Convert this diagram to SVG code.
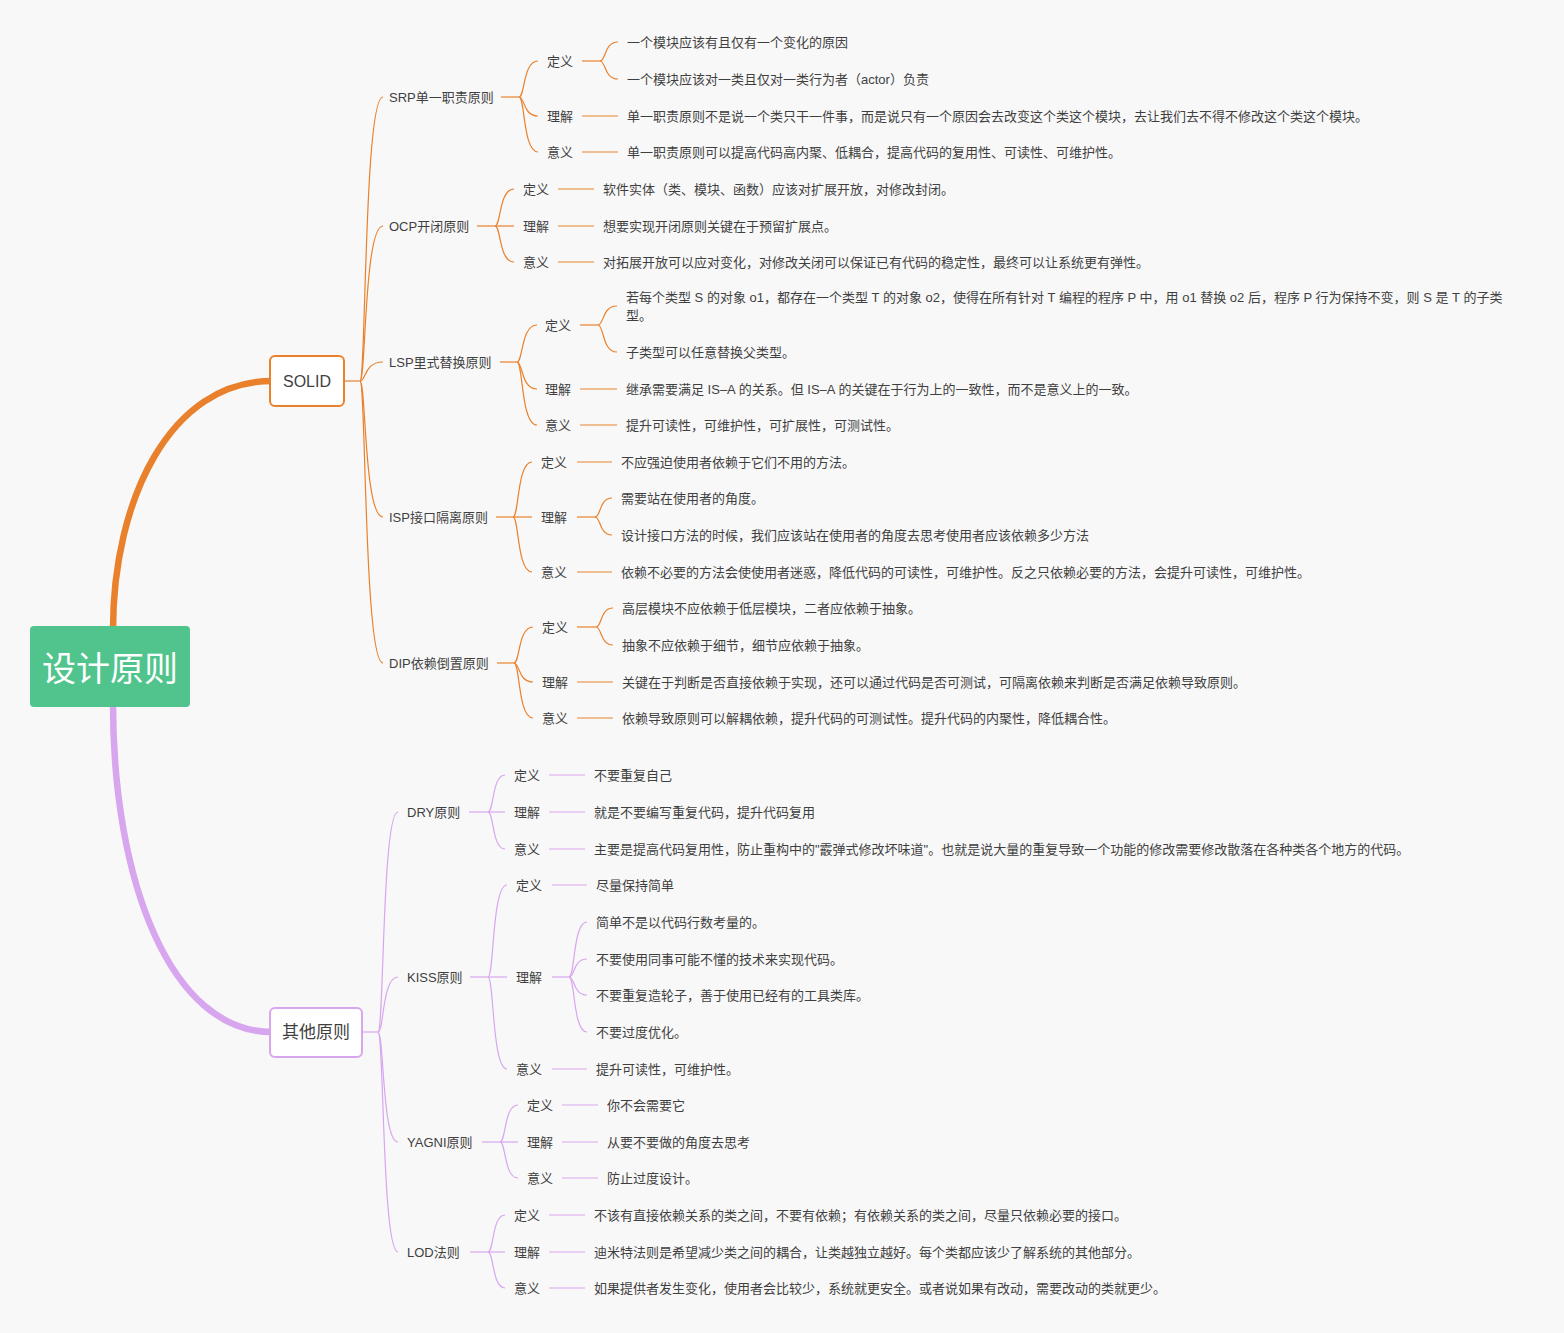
<svg xmlns="http://www.w3.org/2000/svg" width="1564" height="1333" viewBox="0 0 1564 1333">
<style>
.t{font-family:"Liberation Sans","Noto Sans CJK SC",sans-serif;font-size:13px;fill:#3f3f3f;dominant-baseline:central}
.o{fill:none;stroke:#E9812C;stroke-width:1.2}
.p{fill:none;stroke:#D7A6EE;stroke-width:1.2}
.ob{fill:none;stroke:#E9812C;stroke-width:6.5;stroke-linecap:round}
.pb{fill:none;stroke:#D7A6EE;stroke-width:6.5;stroke-linecap:round}
</style>
<rect x="0" y="0" width="1564" height="1333" fill="#F8F8F8"/>
<g id="connectors">
<path class="ob" d="M113,630 C113,500 170,381 272,381"/>
<path class="pb" d="M113,704 C113,880 170,1032 272,1032"/>
<path class="o" d="M344,381 H360"/>
<path class="o" d="M360,381 C366,381 364,97 383,97"/>
<path class="o" d="M360,381 C366,381 364,226 383,226"/>
<path class="o" d="M360,381 C366,381 364,362 383,362"/>
<path class="o" d="M360,381 C366,381 364,517 383,517"/>
<path class="o" d="M360,381 C366,381 364,663 383,663"/>
<path class="o" d="M501,97 H519"/>
<path class="o" d="M519,97 C525,97 523,61 538,61"/>
<path class="o" d="M519,97 C525,97 523,116 538,116"/>
<path class="o" d="M519,97 C525,97 523,152 538,152"/>
<path class="o" d="M582,61 H600"/>
<path class="o" d="M600,61 C606,61 604,42 618,42"/>
<path class="o" d="M600,61 C606,61 604,79 618,79"/>
<path class="o" d="M582,116 H618"/>
<path class="o" d="M582,152 H618"/>
<path class="o" d="M477,226 H495"/>
<path class="o" d="M495,226 C501,226 499,189 514,189"/>
<path class="o" d="M495,226 H514"/>
<path class="o" d="M495,226 C501,226 499,262 514,262"/>
<path class="o" d="M558,189 H594"/>
<path class="o" d="M558,226 H594"/>
<path class="o" d="M558,262 H594"/>
<path class="o" d="M500,362 H517"/>
<path class="o" d="M517,362 C523,362 521,325 537,325"/>
<path class="o" d="M517,362 C523,362 521,389 537,389"/>
<path class="o" d="M517,362 C523,362 521,425 537,425"/>
<path class="o" d="M580,325 H598"/>
<path class="o" d="M598,325 C604,325 602,306 617,306"/>
<path class="o" d="M598,325 C604,325 602,352 617,352"/>
<path class="o" d="M580,389 H617"/>
<path class="o" d="M580,425 H617"/>
<path class="o" d="M496,517 H513"/>
<path class="o" d="M513,517 C519,517 517,462 532,462"/>
<path class="o" d="M513,517 H532"/>
<path class="o" d="M513,517 C519,517 517,572 532,572"/>
<path class="o" d="M577,462 H612"/>
<path class="o" d="M577,517 H595"/>
<path class="o" d="M595,517 C601,517 599,498 612,498"/>
<path class="o" d="M595,517 C601,517 599,535 612,535"/>
<path class="o" d="M577,572 H612"/>
<path class="o" d="M497,663 H514"/>
<path class="o" d="M514,663 C520,663 518,627 533,627"/>
<path class="o" d="M514,663 C520,663 518,682 533,682"/>
<path class="o" d="M514,663 C520,663 518,718 533,718"/>
<path class="o" d="M577,627 H596"/>
<path class="o" d="M596,627 C602,627 600,608 613,608"/>
<path class="o" d="M596,627 C602,627 600,645 613,645"/>
<path class="o" d="M577,682 H613"/>
<path class="o" d="M577,718 H613"/>
<path class="p" d="M362,1032 H378"/>
<path class="p" d="M378,1032 C384,1032 382,812 398,812"/>
<path class="p" d="M378,1032 C384,1032 382,977 398,977"/>
<path class="p" d="M378,1032 C384,1032 382,1142 398,1142"/>
<path class="p" d="M378,1032 C384,1032 382,1252 398,1252"/>
<path class="p" d="M469,812 H488"/>
<path class="p" d="M488,812 C494,812 492,775 505,775"/>
<path class="p" d="M488,812 H505"/>
<path class="p" d="M488,812 C494,812 492,849 505,849"/>
<path class="p" d="M549,775 H585"/>
<path class="p" d="M549,812 H585"/>
<path class="p" d="M549,849 H585"/>
<path class="p" d="M470,977 H488"/>
<path class="p" d="M488,977 C494,977 492,885 507,885"/>
<path class="p" d="M488,977 H507"/>
<path class="p" d="M488,977 C494,977 492,1069 507,1069"/>
<path class="p" d="M552,885 H587"/>
<path class="p" d="M552,977 H569"/>
<path class="p" d="M569,977 C575,977 573,922 587,922"/>
<path class="p" d="M569,977 C575,977 573,959 587,959"/>
<path class="p" d="M569,977 C575,977 573,995 587,995"/>
<path class="p" d="M569,977 C575,977 573,1032 587,1032"/>
<path class="p" d="M552,1069 H587"/>
<path class="p" d="M482,1142 H500"/>
<path class="p" d="M500,1142 C506,1142 504,1105 518,1105"/>
<path class="p" d="M500,1142 H518"/>
<path class="p" d="M500,1142 C506,1142 504,1178 518,1178"/>
<path class="p" d="M562,1105 H598"/>
<path class="p" d="M562,1142 H598"/>
<path class="p" d="M562,1178 H598"/>
<path class="p" d="M470,1252 H488"/>
<path class="p" d="M488,1252 C494,1252 492,1215 505,1215"/>
<path class="p" d="M488,1252 H505"/>
<path class="p" d="M488,1252 C494,1252 492,1288 505,1288"/>
<path class="p" d="M549,1215 H585"/>
<path class="p" d="M549,1252 H585"/>
<path class="p" d="M549,1288 H585"/>
</g>
<g id="root">
<rect x="30" y="626" width="160" height="81" rx="4" fill="#50C48C"/>
<text x="110" y="666" text-anchor="middle" style="font-family:'Noto Sans CJK SC',sans-serif;font-size:34px;fill:#fff;dominant-baseline:central">设计原则</text>
</g>
<g id="solid">
<rect x="270" y="356" width="74" height="50" rx="5" fill="#fff" stroke="#E9812C" stroke-width="2"/>
<text class="t" x="307" y="381" text-anchor="middle" style="font-size:16px">SOLID</text>
</g>
<g id="other">
<rect x="270" y="1008" width="92" height="49" rx="5" fill="#fff" stroke="#D7A6EE" stroke-width="2"/>
<text class="t" x="316" y="1032" text-anchor="middle" style="font-size:17px">其他原则</text>
</g>
<g id="srp">
<text class="t" x="389" y="97">SRP单一职责原则</text>
<text class="t" x="547" y="61">定义</text>
<text class="t" x="627" y="42">一个模块应该有且仅有一个变化的原因</text>
<text class="t" x="627" y="79">一个模块应该对一类且仅对一类行为者（actor）负责</text>
<text class="t" x="547" y="116">理解</text>
<text class="t" x="627" y="116">单一职责原则不是说一个类只干一件事，而是说只有一个原因会去改变这个类这个模块，去让我们去不得不修改这个类这个模块。</text>
<text class="t" x="547" y="152">意义</text>
<text class="t" x="627" y="152">单一职责原则可以提高代码高内聚、低耦合，提高代码的复用性、可读性、可维护性。</text>
</g>
<g id="ocp">
<text class="t" x="389" y="226">OCP开闭原则</text>
<text class="t" x="523" y="189">定义</text>
<text class="t" x="603" y="189">软件实体（类、模块、函数）应该对扩展开放，对修改封闭。</text>
<text class="t" x="523" y="226">理解</text>
<text class="t" x="603" y="226">想要实现开闭原则关键在于预留扩展点。</text>
<text class="t" x="523" y="262">意义</text>
<text class="t" x="603" y="262">对拓展开放可以应对变化，对修改关闭可以保证已有代码的稳定性，最终可以让系统更有弹性。</text>
</g>
<g id="lsp">
<text class="t" x="389" y="362">LSP里式替换原则</text>
<text class="t" x="545" y="325">定义</text>
<text class="t" x="626" y="297">若每个类型 S 的对象 o1，都存在一个类型 T 的对象 o2，使得在所有针对 T 编程的程序 P 中，用 o1 替换 o2 后，程序 P 行为保持不变，则 S 是 T 的子类</text>
<text class="t" x="626" y="315">型。</text>
<text class="t" x="626" y="352">子类型可以任意替换父类型。</text>
<text class="t" x="545" y="389">理解</text>
<text class="t" x="626" y="389">继承需要满足 IS–A 的关系。但 IS–A 的关键在于行为上的一致性，而不是意义上的一致。</text>
<text class="t" x="545" y="425">意义</text>
<text class="t" x="626" y="425">提升可读性，可维护性，可扩展性，可测试性。</text>
</g>
<g id="isp">
<text class="t" x="389" y="517">ISP接口隔离原则</text>
<text class="t" x="541" y="462">定义</text>
<text class="t" x="621" y="462">不应强迫使用者依赖于它们不用的方法。</text>
<text class="t" x="541" y="517">理解</text>
<text class="t" x="621" y="498">需要站在使用者的角度。</text>
<text class="t" x="621" y="535">设计接口方法的时候，我们应该站在使用者的角度去思考使用者应该依赖多少方法</text>
<text class="t" x="541" y="572">意义</text>
<text class="t" x="621" y="572">依赖不必要的方法会使使用者迷惑，降低代码的可读性，可维护性。反之只依赖必要的方法，会提升可读性，可维护性。</text>
</g>
<g id="dip">
<text class="t" x="389" y="663">DIP依赖倒置原则</text>
<text class="t" x="542" y="627">定义</text>
<text class="t" x="622" y="608">高层模块不应依赖于低层模块，二者应依赖于抽象。</text>
<text class="t" x="622" y="645">抽象不应依赖于细节，细节应依赖于抽象。</text>
<text class="t" x="542" y="682">理解</text>
<text class="t" x="622" y="682">关键在于判断是否直接依赖于实现，还可以通过代码是否可测试，可隔离依赖来判断是否满足依赖导致原则。</text>
<text class="t" x="542" y="718">意义</text>
<text class="t" x="622" y="718">依赖导致原则可以解耦依赖，提升代码的可测试性。提升代码的内聚性，降低耦合性。</text>
</g>
<g id="dry">
<text class="t" x="407" y="812">DRY原则</text>
<text class="t" x="514" y="775">定义</text>
<text class="t" x="594" y="775">不要重复自己</text>
<text class="t" x="514" y="812">理解</text>
<text class="t" x="594" y="812">就是不要编写重复代码，提升代码复用</text>
<text class="t" x="514" y="849">意义</text>
<text class="t" x="594" y="849">主要是提高代码复用性，防止重构中的"霰弹式修改坏味道"。也就是说大量的重复导致一个功能的修改需要修改散落在各种类各个地方的代码。</text>
</g>
<g id="kiss">
<text class="t" x="407" y="977">KISS原则</text>
<text class="t" x="516" y="885">定义</text>
<text class="t" x="596" y="885">尽量保持简单</text>
<text class="t" x="516" y="977">理解</text>
<text class="t" x="596" y="922">简单不是以代码行数考量的。</text>
<text class="t" x="596" y="959">不要使用同事可能不懂的技术来实现代码。</text>
<text class="t" x="596" y="995">不要重复造轮子，善于使用已经有的工具类库。</text>
<text class="t" x="596" y="1032">不要过度优化。</text>
<text class="t" x="516" y="1069">意义</text>
<text class="t" x="596" y="1069">提升可读性，可维护性。</text>
</g>
<g id="yagni">
<text class="t" x="407" y="1142">YAGNI原则</text>
<text class="t" x="527" y="1105">定义</text>
<text class="t" x="607" y="1105">你不会需要它</text>
<text class="t" x="527" y="1142">理解</text>
<text class="t" x="607" y="1142">从要不要做的角度去思考</text>
<text class="t" x="527" y="1178">意义</text>
<text class="t" x="607" y="1178">防止过度设计。</text>
</g>
<g id="lod">
<text class="t" x="407" y="1252">LOD法则</text>
<text class="t" x="514" y="1215">定义</text>
<text class="t" x="594" y="1215">不该有直接依赖关系的类之间，不要有依赖；有依赖关系的类之间，尽量只依赖必要的接口。</text>
<text class="t" x="514" y="1252">理解</text>
<text class="t" x="594" y="1252">迪米特法则是希望减少类之间的耦合，让类越独立越好。每个类都应该少了解系统的其他部分。</text>
<text class="t" x="514" y="1288">意义</text>
<text class="t" x="594" y="1288">如果提供者发生变化，使用者会比较少，系统就更安全。或者说如果有改动，需要改动的类就更少。</text>
</g>
</svg>
